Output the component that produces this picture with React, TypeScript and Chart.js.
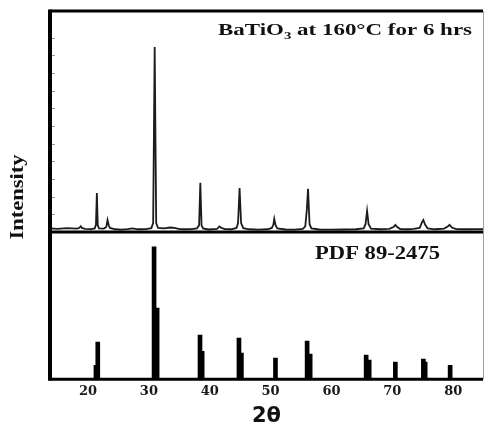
import React, { useEffect, useRef } from "react";
import { Chart, registerables } from "chart.js";

Chart.register(...registerables);

// Top panel: measured XRD pattern (2θ, intensity)
const patternTwoTheta = [
  13.8, 15, 16.5, 18.2, 18.6, 18.8, 19.0, 19.5, 20.5, 21.1, 21.3, 21.45, 21.6, 21.8,
  22.6, 23.0, 23.2, 23.4, 23.6, 24.5, 25.5, 26.5, 27.3, 28.2, 29.5, 30.4, 30.7, 30.95,
  31.2, 31.5, 32.5, 33.5, 34.2, 35, 36, 37, 37.9, 38.25, 38.45, 38.65, 38.9, 39.8, 41.2,
  41.6, 41.9, 42.5, 43.5, 44.4, 44.65, 44.9, 45.15, 45.5, 46.5, 48, 49.5, 50.2, 50.45,
  50.6, 50.8, 51.1, 52.5, 54, 55.3, 55.7, 55.95, 56.15, 56.4, 56.7, 58, 60, 62, 64, 65.3,
  65.6, 65.85, 66.1, 66.5, 68, 69.5, 70.2, 70.5, 70.8, 71.3, 72.5, 73.5, 74.5, 74.9, 75.1,
  75.4, 75.8, 77, 78.5, 79.1, 79.4, 79.8, 80.5, 82, 84.9,
];
const patternIntensity = [
  1.6, 1.4, 1.7, 1.5, 1.9, 2.6, 1.8, 1.4, 1.3, 1.6, 3.2, 17.6, 3.0, 1.6,
  1.5, 2.2, 5.4, 3.0, 1.8, 1.2, 1.0, 1.3, 1.6, 1.2, 1.3, 1.7, 4.0, 83.7,
  4.0, 1.8, 1.6, 2.0, 1.8, 1.3, 1.2, 1.3, 1.6, 3.0, 22.2, 3.0, 1.6, 1.1, 1.4,
  2.5, 1.8, 1.3, 1.2, 1.8, 4.0, 19.9, 4.0, 1.7, 1.2, 1.0, 1.2, 1.8, 3.2,
  5.9, 3.2, 1.6, 1.1, 1.0, 1.4, 2.5, 10, 19.5, 3.5, 1.6, 1.1, 1.0, 1.1, 1.2, 1.6,
  3.5, 9.5, 3.5, 1.5, 1.2, 1.4, 2.2, 3.2, 2.2, 1.3, 1.2, 1.4, 1.8, 4.5, 5.4,
  3.2, 1.6, 1.2, 1.5, 2.4, 3.2, 2.0, 1.3, 1.2, 1.3,
];

// Bottom panel: reference PDF 89-2475 stick pattern
const refTwoTheta = [
  21.3, 21.6, 30.85, 31.35, 38.4, 38.75, 44.8, 45.2, 50.8, 56.0, 56.5, 65.7, 66.2,
  70.5, 75.1, 75.4, 79.5,
];
const refIntensity = [
  9.5, 25.2, 89.8, 48.3, 29.9, 19.0, 27.9, 17.7, 14.3, 25.9, 17.0, 16.3, 12.9,
  11.6, 13.6, 11.6, 9.5,
];

const xTickValues = [20, 30, 40, 50, 60, 70, 80];
const xMin = 13.75;
const xMax = 84.9;

const topLabel = ["BaTiO", "3", " at 160°C for 6 hrs"];
const bottomLabel = "PDF 89-2475";
const yLabel = "Intensity";
const xLabel = "2θ";

type Part = { t: string; font: string; dy: number };

function drawStretched(
  ctx: CanvasRenderingContext2D,
  parts: Part[],
  x: number,
  y: number,
  targetW: number,
  align: "left" | "right"
) {
  let w = 0;
  parts.forEach((p) => {
    ctx.font = p.font;
    w += ctx.measureText(p.t).width;
  });
  const s = targetW / w;
  ctx.save();
  ctx.translate(align === "left" ? x : x - targetW, y);
  ctx.scale(s, 1);
  ctx.textBaseline = "alphabetic";
  ctx.textAlign = "left";
  let cx = 0;
  parts.forEach((p) => {
    ctx.font = p.font;
    ctx.fillText(p.t, cx, p.dy);
    cx += ctx.measureText(p.t).width;
  });
  ctx.restore();
}

const framePlugin = {
  id: "xrdFrame",
  afterDatasetsDraw(chart: any) {
    const ctx: CanvasRenderingContext2D = chart.ctx;
    const a = chart.chartArea;
    const yTop = chart.scales.yTop;
    ctx.save();
    // faint inner ticks on left of top panel
    ctx.strokeStyle = "#9a9a9a";
    ctx.lineWidth = 1;
    yTop.ticks.forEach((t: any) => {
      const py = Math.round(yTop.getPixelForValue(t.value)) + 0.5;
      ctx.beginPath();
      ctx.moveTo(a.left + 2, py);
      ctx.lineTo(a.left + 5, py);
      ctx.stroke();
    });
    // right thin border
    ctx.strokeStyle = "#a0a0a0";
    ctx.lineWidth = 1;
    ctx.beginPath();
    ctx.moveTo(a.right + 0.5, a.top);
    ctx.lineTo(a.right + 0.5, a.bottom);
    ctx.stroke();
    // heavy frame
    ctx.strokeStyle = "#000";
    ctx.lineWidth = 3;
    ctx.beginPath();
    ctx.moveTo(a.left, a.top);
    ctx.lineTo(a.right, a.top);
    ctx.moveTo(a.left, yTop.bottom);
    ctx.lineTo(a.right, yTop.bottom);
    ctx.moveTo(a.left, a.bottom);
    ctx.lineTo(a.right, a.bottom);
    ctx.stroke();
    ctx.lineWidth = 4;
    ctx.beginPath();
    ctx.moveTo(a.left, a.top - 1.5);
    ctx.lineTo(a.left, a.bottom + 1.5);
    ctx.stroke();
    ctx.restore();
  },
  afterDraw(chart: any) {
    const ctx: CanvasRenderingContext2D = chart.ctx;
    const a = chart.chartArea;
    const yTop = chart.scales.yTop;
    ctx.save();
    ctx.fillStyle = "#111";
    drawStretched(
      ctx,
      [
        { t: topLabel[0], font: "bold 17px 'Liberation Serif'", dy: 0 },
        { t: topLabel[1], font: "bold 11px 'Liberation Serif'", dy: 4 },
        { t: topLabel[2], font: "bold 17px 'Liberation Serif'", dy: 0 },
      ],
      a.right - 11,
      a.top + 24,
      254,
      "right"
    );
    drawStretched(
      ctx,
      [{ t: bottomLabel, font: "bold 18px 'Liberation Serif'", dy: 0 }],
      a.left + 265,
      yTop.bottom + 27,
      125,
      "left"
    );
    // y label
    ctx.save();
    ctx.translate(23, (a.top + a.bottom) / 2 + 2);
    ctx.rotate(-Math.PI / 2);
    ctx.font = "bold 19px 'Liberation Serif'";
    const w = ctx.measureText(yLabel).width;
    const s = 85 / w;
    ctx.scale(s, 1);
    ctx.textAlign = "center";
    ctx.textBaseline = "alphabetic";
    ctx.fillText(yLabel, 0, 0);
    ctx.restore();
    ctx.restore();
  },
};

export default function App() {
  const ref = useRef<HTMLCanvasElement | null>(null);

  useEffect(() => {
    if (!ref.current) return;
    const pattern = patternTwoTheta.map((x, i) => ({ x, y: patternIntensity[i] }));
    const sticks = refTwoTheta.map((x, i) => ({ x, y: refIntensity[i] }));
    const chart = new Chart(ref.current, {
      type: "bar",
      data: {
        datasets: [
          {
            type: "line",
            label: "BaTiO3",
            data: pattern,
            xAxisID: "x",
            yAxisID: "yTop",
            borderColor: "#1c1c1c",
            borderWidth: 1.8,
            pointRadius: 0,
            tension: 0,
            fill: false,
          } as any,
          {
            type: "bar",
            label: "PDF 89-2475",
            data: sticks,
            xAxisID: "x",
            yAxisID: "yBottom",
            backgroundColor: "#000",
            borderWidth: 0,
            barThickness: 4,
            grouped: false,
          } as any,
        ],
      },
      options: {
        animation: false,
        responsive: false,
        maintainAspectRatio: false,
        layout: { padding: { top: 11, right: 3, bottom: 0, left: 0 } },
        plugins: {
          legend: { display: false },
          tooltip: { enabled: false },
          title: { display: false },
        },
        scales: {
          x: {
            type: "linear",
            min: xMin,
            max: xMax,
            offset: false,
            afterBuildTicks: (axis: any) => {
              axis.ticks = xTickValues.map((v) => ({ value: v }));
            },
            grid: { display: false, drawTicks: false },
            border: { display: false },
            ticks: {
              color: "#1a1a1a",
              padding: 6,
              font: { family: "'DejaVu Serif'", weight: "bold", size: 13, lineHeight: 1.0 },
              maxRotation: 0,
              autoSkip: false,
            },
            title: {
              display: true,
              text: xLabel,
              color: "#111",
              font: { family: "'DejaVu Sans'", weight: "bold", size: 21, lineHeight: 0.8 },
              padding: { top: 4, bottom: 0 },
            },
          },
          yTop: {
            type: "linear",
            position: "left",
            stack: "xrd",
            stackWeight: 1.5,
            weight: 1,
            min: 0,
            max: 100,
            offset: false,
            ticks: { display: false, stepSize: 8 },
            grid: { display: false, drawTicks: false },
            border: { display: false },
            afterFit: (s: any) => {
              s.width = 50;
            },
          },
          yBottom: {
            type: "linear",
            position: "left",
            stack: "xrd",
            stackWeight: 1,
            weight: 0,
            min: 0,
            max: 100,
            offset: false,
            ticks: { display: false },
            grid: { display: false, drawTicks: false },
            border: { display: false },
            afterFit: (s: any) => {
              s.width = 50;
            },
          },
        } as any,
      },
      plugins: [framePlugin],
    });
    return () => chart.destroy();
  }, []);

  return (
    <div style={{ position: "absolute", left: 0, top: 0, width: 486, height: 425, background: "#fff" }}>
      <canvas ref={ref} width={486} height={425} style={{ display: "block" }} />
    </div>
  );
}
